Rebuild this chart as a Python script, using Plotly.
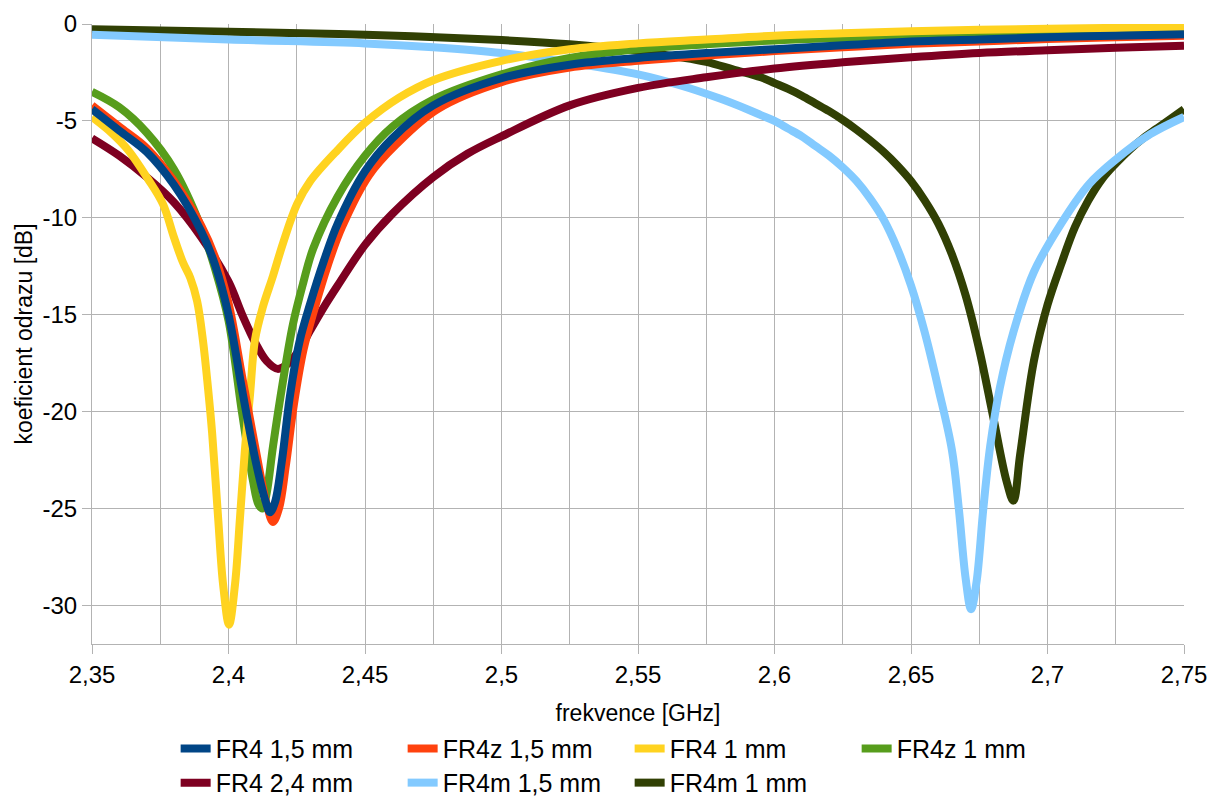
import plotly.graph_objects as go

# Reflection coefficient (S11) of the patch antenna variants, frequency in GHz, level in dB

FREQ_FR4_15 = [2.35, 2.36, 2.37, 2.38, 2.39, 2.395, 2.4, 2.405, 2.41, 2.4135,
               2.4152, 2.417, 2.4195, 2.4225, 2.426, 2.43, 2.435, 2.44, 2.45, 2.46,
               2.475, 2.5, 2.525, 2.55, 2.575, 2.6, 2.625, 2.65, 2.675, 2.7,
               2.725, 2.75]
S11_FR4_15 = [-4.4, -5.5, -6.6, -8.3, -10.7, -12.4, -15.0, -18.9, -22.6, -24.6,
              -25.2, -24.7, -22.6, -19.2, -16.4, -14.4, -12.2, -10.3, -7.6, -5.9,
              -4.2, -2.8, -2.1, -1.75, -1.5, -1.3, -1.1, -0.9, -0.8, -0.68,
              -0.6, -0.53]

FREQ_FR4Z_15 = [2.35, 2.36, 2.37, 2.38, 2.39, 2.395, 2.4, 2.405, 2.41, 2.414,
                2.4163, 2.4185, 2.421, 2.424, 2.4275, 2.4315, 2.4365, 2.4415, 2.4515, 2.4615,
                2.4765, 2.5, 2.525, 2.55, 2.575, 2.6, 2.625, 2.65, 2.675, 2.7,
                2.725, 2.75]
S11_FR4Z_15 = [-4.2, -5.3, -6.4, -8.1, -10.4, -12.0, -14.4, -18.2, -22.0, -24.8,
               -25.7, -25.0, -22.8, -19.6, -16.8, -14.7, -12.4, -10.5, -7.8, -6.2,
               -4.4, -3.0, -2.25, -1.9, -1.62, -1.4, -1.2, -1.02, -0.9, -0.78,
               -0.68, -0.6]

FREQ_FR4_10 = [2.35, 2.357, 2.3632, 2.3705, 2.376, 2.38, 2.3833, 2.386, 2.3885, 2.3907,
               2.3925, 2.394, 2.3962, 2.398, 2.4002, 2.4024, 2.4042, 2.406, 2.4079, 2.4097,
               2.4126, 2.4163, 2.42, 2.4251, 2.43, 2.44, 2.45, 2.4625, 2.475, 2.5,
               2.525, 2.55, 2.575, 2.6, 2.625, 2.65, 2.675, 2.7, 2.725, 2.75]
S11_FR4_10 = [-4.8, -5.6, -6.5, -8.0, -9.3, -11.0, -12.3, -13.1, -14.3, -16.4,
              -18.8, -21.1, -25.5, -28.9, -31.0, -28.9, -25.5, -22.0, -19.1, -16.3,
              -14.6, -13.0, -11.3, -9.3, -8.1, -6.5, -5.1, -3.8, -2.9, -1.9,
              -1.3, -1.0, -0.8, -0.6, -0.48, -0.38, -0.3, -0.24, -0.2, -0.15]

FREQ_FR4Z_10 = [2.35, 2.36, 2.37, 2.38, 2.39, 2.395, 2.4, 2.405, 2.409, 2.411,
                2.4125, 2.414, 2.4163, 2.42, 2.4236, 2.4273, 2.431, 2.44, 2.45, 2.46,
                2.475, 2.5, 2.525, 2.55, 2.575, 2.6, 2.625, 2.65, 2.675, 2.7,
                2.725, 2.75]
S11_FR4Z_10 = [-3.5, -4.3, -5.6, -7.5, -10.5, -12.6, -15.3, -20.1, -23.6, -24.8,
               -25.0, -24.2, -21.8, -18.4, -15.5, -13.4, -11.6, -8.9, -6.8, -5.3,
               -3.9, -2.6, -1.75, -1.3, -1.05, -0.85, -0.72, -0.6, -0.5, -0.42,
               -0.37, -0.33]

FREQ_FR4_24 = [2.35, 2.36, 2.37, 2.38, 2.39, 2.4, 2.405, 2.41, 2.414, 2.418,
               2.422, 2.426, 2.43, 2.435, 2.44, 2.45, 2.46, 2.475, 2.4875, 2.5,
               2.525, 2.55, 2.575, 2.6, 2.625, 2.65, 2.675, 2.7, 2.725, 2.75]
S11_FR4_24 = [-5.9, -6.8, -7.9, -9.2, -11.0, -13.3, -15.0, -16.5, -17.4, -17.8,
              -17.5, -16.8, -15.8, -14.6, -13.5, -11.4, -9.8, -7.9, -6.7, -5.8,
              -4.2, -3.3, -2.75, -2.3, -1.98, -1.72, -1.5, -1.35, -1.22, -1.12]

FREQ_FR4M_15 = [2.35, 2.4, 2.45, 2.475, 2.5, 2.525, 2.55, 2.565, 2.58, 2.59,
                2.595, 2.6, 2.605, 2.61, 2.615, 2.62, 2.625, 2.63, 2.635, 2.64,
                2.645, 2.65, 2.655, 2.66, 2.665, 2.6675, 2.67, 2.672, 2.674, 2.6765,
                2.679, 2.6825, 2.6875, 2.695, 2.705, 2.715, 2.725, 2.7375, 2.75]
S11_FR4M_15 = [-0.55, -0.8, -1.0, -1.2, -1.5, -2.0, -2.6, -3.15, -3.85, -4.4,
               -4.7, -5.0, -5.4, -5.8, -6.3, -6.8, -7.4, -8.1, -9.0, -10.1,
               -11.6, -13.5, -15.9, -18.8, -22.0, -25.0, -28.6, -30.2, -28.8, -25.0,
               -21.8, -18.8, -15.9, -12.8, -10.3, -8.3, -7.0, -5.7, -4.8]

FREQ_FR4M_10 = [2.35, 2.4, 2.45, 2.5, 2.525, 2.55, 2.565, 2.575, 2.585, 2.595,
                2.6, 2.605, 2.61, 2.615, 2.62, 2.625, 2.63, 2.635, 2.64, 2.645,
                2.65, 2.655, 2.66, 2.665, 2.67, 2.675, 2.68, 2.685, 2.6875, 2.69,
                2.695, 2.7, 2.705, 2.71, 2.715, 2.72, 2.725, 2.73, 2.735, 2.74,
                2.745, 2.75]
S11_FR4M_10 = [-0.27, -0.4, -0.55, -0.83, -1.05, -1.4, -1.7, -1.95, -2.35, -2.75,
               -3.05, -3.35, -3.7, -4.1, -4.5, -4.95, -5.45, -6.0, -6.6, -7.3,
               -8.1, -9.1, -10.3, -11.9, -14.0, -16.8, -20.2, -23.6, -24.6, -22.2,
               -17.4, -14.5, -12.4, -10.5, -9.1, -8.0, -7.2, -6.5, -5.9, -5.4,
               -4.9, -4.4]

X_TICKS = [2.35, 2.4, 2.45, 2.5, 2.55, 2.6, 2.65, 2.7, 2.75]
X_TICK_TEXT = ["2,35", "2,4", "2,45", "2,5", "2,55", "2,6", "2,65", "2,7", "2,75"]
X_MINOR = [2.375, 2.425, 2.475, 2.525, 2.575, 2.625, 2.675, 2.725]
Y_TICKS = [0, -5, -10, -15, -20, -25, -30]
Y_TICK_TEXT = ["0", "-5", "-10", "-15", "-20", "-25", "-30"]

SERIES = [
    ("FR4 1,5 mm", FREQ_FR4_15, S11_FR4_15, "#004586", "legend"),
    ("FR4z 1,5 mm", FREQ_FR4Z_15, S11_FR4Z_15, "#ff420e", "legend"),
    ("FR4 1 mm", FREQ_FR4_10, S11_FR4_10, "#ffd320", "legend"),
    ("FR4z 1 mm", FREQ_FR4Z_10, S11_FR4Z_10, "#579d1c", "legend"),
    ("FR4 2,4 mm", FREQ_FR4_24, S11_FR4_24, "#7e0021", "legend2"),
    ("FR4m 1,5 mm", FREQ_FR4M_15, S11_FR4M_15, "#83caff", "legend2"),
    ("FR4m 1 mm", FREQ_FR4M_10, S11_FR4M_10, "#314004", "legend2"),
]

FONT = "Liberation Sans, Arial, sans-serif"
GRID = "#b3b3b3"

fig = go.Figure()
# first series ends up on top, so add them in reverse
for rank, (name, fx, fy, color, leg) in reversed(list(enumerate(SERIES))):
    fig.add_trace(go.Scatter(
        x=fx, y=fy, name=name, mode="lines",
        line=dict(color=color, width=8, shape="spline", smoothing=1.0),
        legend=leg, legendrank=rank + 1,
    ))

legend_common = dict(
    orientation="h", xref="paper", yref="paper",
    xanchor="left", yanchor="middle",
    font=dict(family=FONT, size=25, color="#000000"),
    entrywidth=182, itemwidth=30, tracegroupgap=0,
    bgcolor="rgba(0,0,0,0)",
)

fig.update_layout(
    width=1212, height=796,
    margin=dict(l=92, r=28, t=24, b=152, autoexpand=False),
    paper_bgcolor="white", plot_bgcolor="white",
    font=dict(family=FONT, size=24, color="#000000"),
    showlegend=True,
    legend=dict(x=0.0766, y=-0.169, traceorder="normal", **legend_common),
    legend2=dict(x=0.0766, y=-0.224, traceorder="normal", **legend_common),
)

fig.update_xaxes(
    range=[2.35, 2.75],
    tickvals=X_TICKS, ticktext=X_TICK_TEXT,
    ticks="outside", ticklen=9, tickcolor=GRID, tickwidth=1,
    showgrid=True, gridcolor=GRID, gridwidth=1,
    minor=dict(tickvals=X_MINOR, showgrid=True, gridcolor=GRID, gridwidth=1, ticks=""),
    showline=True, linecolor=GRID, linewidth=1,
    zeroline=False,
    tickfont=dict(family=FONT, size=24),
    title=dict(text="frekvence [GHz]", font=dict(family=FONT, size=23), standoff=18),
)
fig.update_yaxes(
    range=[-32, 0],
    tickvals=Y_TICKS, ticktext=Y_TICK_TEXT,
    ticks="outside", ticklen=9, tickcolor=GRID, tickwidth=1,
    showgrid=True, gridcolor=GRID, gridwidth=1,
    showline=True, linecolor=GRID, linewidth=1,
    zeroline=False,
    tickfont=dict(family=FONT, size=24),
    title=dict(text="koeficient odrazu [dB]", font=dict(family=FONT, size=23), standoff=3),
)

fig.write_html("out.html")
